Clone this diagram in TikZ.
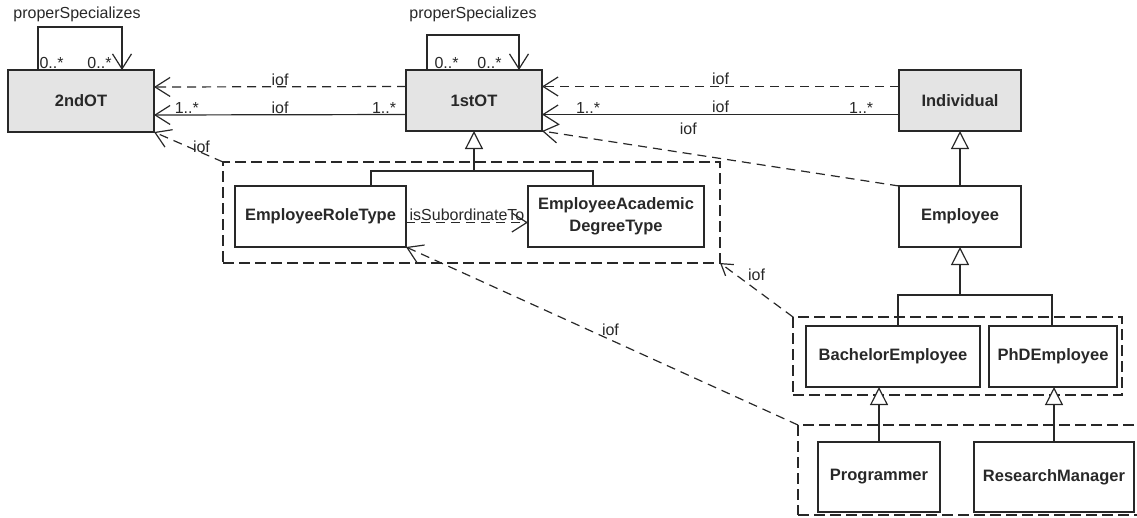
\documentclass[tikz,border=0pt]{standalone}
\usepackage{fontspec}
\setmainfont{Liberation Sans}
\usetikzlibrary{arrows.meta}
\definecolor{metagray}{RGB}{228,228,228}
\definecolor{ink}{RGB}{40,40,40}

\begin{document}
\begin{tikzpicture}[x=1pt, y=-1pt, color=ink, line width=1.2pt,
  every node/.style={font=\fontsize{16}{19}\selectfont, inner sep=1.5pt, outer sep=0pt},
  c/.style={draw, font=\bfseries\fontsize{16.5}{22}\selectfont, align=center, minimum height=61pt},
  grp/.style={draw, dash pattern=on 11pt off 5pt, inner sep=0pt},
  dep/.style={dash pattern=on 9pt off 6pt, -{Straight Barb[length=15pt, width=19pt]}},
  assoc/.style={-{Straight Barb[length=15pt, width=19pt]}},
  gen/.style={-{Triangle[length=18pt, width=18pt, fill=white]}}]
        \useasboundingbox (0,0) rectangle (1137,517);

        \node[grp, minimum width=497pt, minimum height=101pt] (g1) at (471.5,212.5) {};
        \node[grp, minimum width=329pt, minimum height=78pt] (g2) at (957.5,356) {};
        \node[grp, minimum width=347pt, minimum height=90pt] (g3) at (971.5,470) {};

        \node[c, fill=metagray, minimum width=146pt, minimum height=62pt] (ot2) at (81,101) {2ndOT};
        \node[c, fill=metagray, minimum width=136pt] (ot1) at (474,100.5) {1stOT};
        \node[c, fill=metagray, minimum width=122pt] (ind) at (960,100.5) {Individual};
        \node[c, minimum width=122pt] (emp) at (960,216.5) {Employee};
        \node[c, minimum width=171pt] (ert) at (320.5,216.5) {EmployeeRoleType};
        \node[c, minimum width=176pt] (ead) at (616,216.5) {EmployeeAcademic\\DegreeType};
        \node[c, minimum width=174pt] (be) at (893,356.5) {BachelorEmployee};
        \node[c, minimum width=128pt] (phd) at (1053,356.5) {PhDEmployee};
        \node[c, minimum width=122pt, minimum height=70pt] (prog) at (879,477) {Programmer};
        \node[c, minimum width=160pt, minimum height=70pt] (rm) at (1054,477) {ResearchManager};

        \node (ps2) at (77,14) {properSpecializes};
        \node (ps1) at (473,14) {properSpecializes};

        \draw[assoc] ([xshift=-43pt]ot2.north) -- node[pos=0, above right]{0..*} ++(0,-43)
            -| node[pos=1, above left, xshift=-9pt]{0..*} ([xshift=41pt]ot2.north);
        \draw[assoc] ([xshift=-47pt]ot1.north) -- node[pos=0, above right, xshift=6pt]{0..*} ++(0,-35)
            -| node[pos=1, above left, xshift=-16pt]{0..*} ([xshift=45pt]ot1.north);

        \draw[dep] ([yshift=14pt]ot1.west) -- node[above]{iof} ([yshift=14pt]ot2.east);
        \draw[assoc] ([yshift=-14pt]ot1.west) -- node[pos=0.087, above]{1..*} node[above]{iof}
            node[pos=0.87, above]{1..*} ([yshift=-14pt]ot2.east);
        \draw[dep] ([yshift=14pt]ind.west) -- node[above]{iof} ([yshift=14pt]ot1.east);
        \draw[assoc] ([yshift=-14pt]ind.west) -- node[pos=0.106, above]{1..*} node[above]{iof}
            node[pos=0.871, above]{1..*} ([yshift=-14pt]ot1.east);
        \draw[dep] (emp.north west) -- node[pos=0.59, above=17pt]{iof} (ot1.south east);
        \draw[dep] (g1.north west) -- node[pos=0.5, above right, xshift=3pt, yshift=-7pt]{iof} (ot2.south east);
        \draw[dep] ([yshift=-6pt]ert.east) -- node[above]{isSubordinateTo} ([yshift=-6pt]ead.west);
        \draw[dep, -{Straight Barb[length=11pt, width=14pt]}] (g2.north west) -- node[pos=0.5, above, yshift=8pt]{iof} (g1.south east);
        \draw[dep] (g3.north west) -- node[pos=0.5, above right, inner sep=0pt]{iof} (ert.south east);

        \coordinate (j1) at (474,171);
        \coordinate (j2) at (960,295);
        \draw ([xshift=50.5pt]ert.north) |- (j1) -| ([xshift=-23pt]ead.north);
        \draw[gen] (j1) -- (ot1.south);
        \draw[gen] (emp.north) -- (ind.south);
        \draw ([xshift=5pt]be.north) |- (j2) -| ([xshift=-1pt]phd.north);
        \draw[gen] (j2) -- (emp.south);
        \draw[gen] (prog.north) -- (prog.north |- be.south);
        \draw[gen] (rm.north) -- (rm.north |- phd.south);
    \end{tikzpicture}
\end{document}
